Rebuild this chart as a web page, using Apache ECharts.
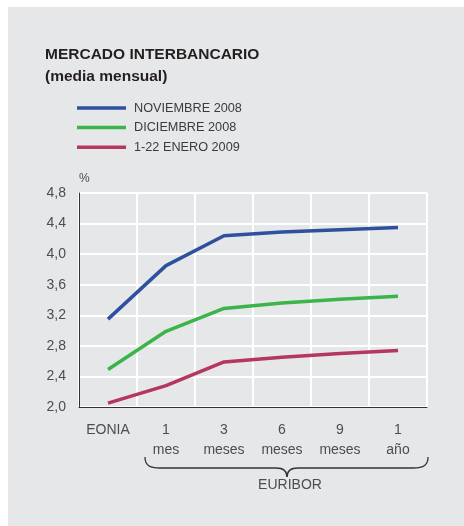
<!DOCTYPE html>
<html>
<head>
<meta charset="utf-8">
<script src="https://cdn.jsdelivr.net/npm/echarts@6/dist/echarts.min.js"></script>
<style>
html,body{margin:0;padding:0;background:#fff;}
#c{position:absolute;left:8px;top:7px;width:456px;height:519px;background:#e6e7e8;}
</style>
</head>
<body>
<div id="c"></div>
<script>
var categories = ['EONIA', '1\nmes', '3\nmeses', '6\nmeses', '9\nmeses', '1\naño'];
var seriesNames = ['NOVIEMBRE 2008', 'DICIEMBRE 2008', '1-22 ENERO 2009'];
var noviembre2008 = [3.15, 3.85, 4.24, 4.29, 4.32, 4.35];
var diciembre2008 = [2.49, 2.99, 3.29, 3.36, 3.41, 3.45];
var enero2009 = [2.05, 2.28, 2.59, 2.65, 2.70, 2.74];
var yTicks = [2.0, 2.4, 2.8, 3.2, 3.6, 4.0, 4.4, 4.8];

var colors = ['#2e509f', '#3bb44a', '#b5365f'];
var FONT = '"Liberation Sans", Arial, sans-serif';
var chart = echarts.init(document.getElementById('c'), null, {renderer: 'canvas'});
var OX = 8, OY = 7;
function P(x, y) { return [x - OX, y - OY]; }
var braceStyle = {stroke: '#333', lineWidth: 1.3, fill: null};
var option = {
  animation: false,
  backgroundColor: '#e6e7e8',
  textStyle: {fontFamily: FONT},
  title: {
    text: 'MERCADO INTERBANCARIO',
    subtext: '(media mensual)',
    left: 45 - OX, top: 47 - OY,
    padding: 0,
    itemGap: 6,
    textStyle: {fontFamily: FONT, fontSize: 15.5, fontWeight: 'bold', color: '#231f20'},
    subtextStyle: {fontFamily: FONT, fontSize: 15.5, fontWeight: 'bold', color: '#231f20'}
  },
  legend: {
    orient: 'vertical',
    left: 77 - OX, top: 101.5 - OY,
    padding: 0,
    icon: 'rect',
    itemWidth: 49, itemHeight: 3.5,
    itemGap: 6.6,
    textStyle: {fontFamily: FONT, fontSize: 12.7, color: '#3b3b3b', padding: [0, 0, 0, 3]},
    data: seriesNames
  },
  grid: {left: 79 - OX, right: 464 - 427, top: 193 - OY, bottom: 526 - 407, containLabel: false},
  xAxis: {
    type: 'category',
    data: categories,
    boundaryGap: true,
    axisLine: {show: true, lineStyle: {color: '#333', width: 1}},
    axisTick: {show: false},
    axisLabel: {color: '#4d4d4d', fontSize: 14, lineHeight: 20, margin: 13, fontFamily: FONT, interval: 0},
    splitLine: {show: true, interval: 0, lineStyle: {color: '#ffffff', width: 2}}
  },
  yAxis: {
    type: 'value',
    min: 2, max: 4.8, interval: 0.4,
    name: '%',
    nameLocation: 'end',
    nameGap: 8,
    nameTextStyle: {color: '#4d4d4d', fontSize: 12, align: 'left', fontFamily: FONT},
    axisLine: {show: true, lineStyle: {color: '#333', width: 1}},
    axisTick: {show: false},
    axisLabel: {color: '#4d4d4d', fontSize: 14, margin: 13, fontFamily: FONT,
      formatter: function (v) { return v.toFixed(1).replace('.', ','); }},
    splitLine: {show: true, lineStyle: {color: '#ffffff', width: 2}}
  },
  series: [
    {name: seriesNames[0], type: 'line', data: noviembre2008, symbol: 'none', lineStyle: {color: colors[0], width: 3.5}, itemStyle: {color: colors[0]}},
    {name: seriesNames[1], type: 'line', data: diciembre2008, symbol: 'none', lineStyle: {color: colors[1], width: 3.5}, itemStyle: {color: colors[1]}},
    {name: seriesNames[2], type: 'line', data: enero2009, symbol: 'none', lineStyle: {color: colors[2], width: 3.5}, itemStyle: {color: colors[2]}}
  ],
  graphic: [
    {type: 'bezierCurve', shape: (function () { var a = P(145, 457), c1 = P(145, 465), c2 = P(149, 468), b = P(160, 468); return {x1: a[0], y1: a[1], cpx1: c1[0], cpy1: c1[1], cpx2: c2[0], cpy2: c2[1], x2: b[0], y2: b[1]}; })(), style: braceStyle},
    {type: 'line', shape: (function () { var a = P(160, 468), b = P(276, 468); return {x1: a[0], y1: a[1], x2: b[0], y2: b[1]}; })(), style: braceStyle},
    {type: 'bezierCurve', shape: (function () { var a = P(276, 468), c1 = P(283, 468), c2 = P(287, 471), b = P(287, 477); return {x1: a[0], y1: a[1], cpx1: c1[0], cpy1: c1[1], cpx2: c2[0], cpy2: c2[1], x2: b[0], y2: b[1]}; })(), style: braceStyle},
    {type: 'bezierCurve', shape: (function () { var a = P(287, 477), c1 = P(287, 471), c2 = P(291, 468), b = P(298, 468); return {x1: a[0], y1: a[1], cpx1: c1[0], cpy1: c1[1], cpx2: c2[0], cpy2: c2[1], x2: b[0], y2: b[1]}; })(), style: braceStyle},
    {type: 'line', shape: (function () { var a = P(298, 468), b = P(413, 468); return {x1: a[0], y1: a[1], x2: b[0], y2: b[1]}; })(), style: braceStyle},
    {type: 'bezierCurve', shape: (function () { var a = P(413, 468), c1 = P(424, 468), c2 = P(428, 465), b = P(428, 457); return {x1: a[0], y1: a[1], cpx1: c1[0], cpy1: c1[1], cpx2: c2[0], cpy2: c2[1], x2: b[0], y2: b[1]}; })(), style: braceStyle},
    {
      type: 'text',
      x: 290 - OX, y: 485 - OY,
      style: {text: 'EURIBOR', fill: '#4d4d4d', font: '14px ' + FONT, textAlign: 'center', textVerticalAlign: 'middle'}
    }
  ]
};
chart.setOption(option);
</script>
</body>
</html>
